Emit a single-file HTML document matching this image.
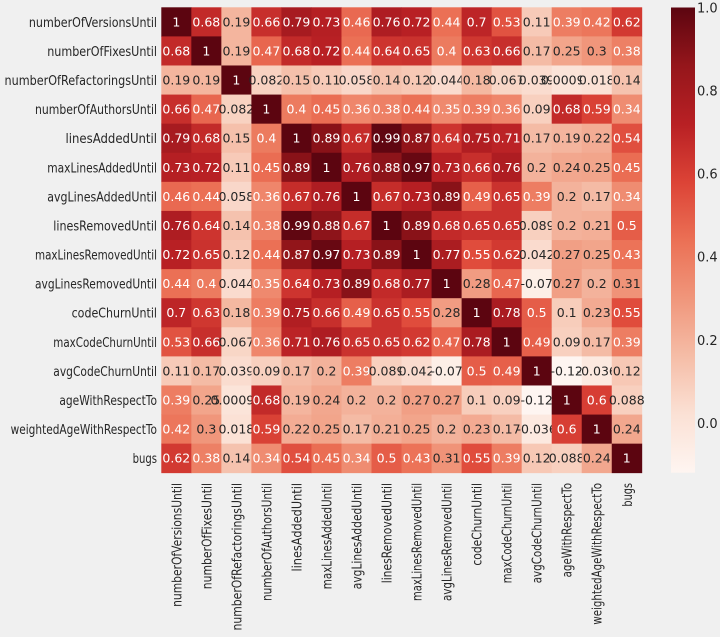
<!DOCTYPE html>
<html><head><meta charset="utf-8"><style>
html,body{margin:0;padding:0;background:#f0f0f0;}
svg{display:block;font-family:"DejaVu Sans","Liberation Sans",sans-serif;}
</style></head><body>
<svg id="s" width="720" height="637" xmlns="http://www.w3.org/2000/svg">
<rect width="720" height="637" fill="#f0f0f0"/>
<defs><linearGradient id="cb" x1="0" y1="1" x2="0" y2="0"></linearGradient></defs>
</svg>
<script>
const names=["numberOfVersionsUntil","numberOfFixesUntil","numberOfRefactoringsUntil","numberOfAuthorsUntil","linesAddedUntil","maxLinesAddedUntil","avgLinesAddedUntil","linesRemovedUntil","maxLinesRemovedUntil","avgLinesRemovedUntil","codeChurnUntil","maxCodeChurnUntil","avgCodeChurnUntil","ageWithRespectTo","weightedAgeWithRespectTo","bugs"];
const M=[
[1,0.68,0.19,0.66,0.79,0.73,0.46,0.76,0.72,0.44,0.7,0.53,0.11,0.39,0.42,0.62],
[0.68,1,0.19,0.47,0.68,0.72,0.44,0.64,0.65,0.4,0.63,0.66,0.17,0.25,0.3,0.38],
[0.19,0.19,1,0.082,0.15,0.11,0.058,0.14,0.12,0.044,0.18,0.067,0.039,0.00097,0.018,0.14],
[0.66,0.47,0.082,1,0.4,0.45,0.36,0.38,0.44,0.35,0.39,0.36,0.09,0.68,0.59,0.34],
[0.79,0.68,0.15,0.4,1,0.89,0.67,0.99,0.87,0.64,0.75,0.71,0.17,0.19,0.22,0.54],
[0.73,0.72,0.11,0.45,0.89,1,0.76,0.88,0.97,0.73,0.66,0.76,0.2,0.24,0.25,0.45],
[0.46,0.44,0.058,0.36,0.67,0.76,1,0.67,0.73,0.89,0.49,0.65,0.39,0.2,0.17,0.34],
[0.76,0.64,0.14,0.38,0.99,0.88,0.67,1,0.89,0.68,0.65,0.65,0.089,0.2,0.21,0.5],
[0.72,0.65,0.12,0.44,0.87,0.97,0.73,0.89,1,0.77,0.55,0.62,0.042,0.27,0.25,0.43],
[0.44,0.4,0.044,0.35,0.64,0.73,0.89,0.68,0.77,1,0.28,0.47,-0.07,0.27,0.2,0.31],
[0.7,0.63,0.18,0.39,0.75,0.66,0.49,0.65,0.55,0.28,1,0.78,0.5,0.1,0.23,0.55],
[0.53,0.66,0.067,0.36,0.71,0.76,0.65,0.65,0.62,0.47,0.78,1,0.49,0.09,0.17,0.39],
[0.11,0.17,0.039,0.09,0.17,0.2,0.39,0.089,0.042,-0.07,0.5,0.49,1,-0.12,-0.036,0.12],
[0.39,0.25,0.00097,0.68,0.19,0.24,0.2,0.2,0.27,0.27,0.1,0.09,-0.12,1,0.6,0.088],
[0.42,0.3,0.018,0.59,0.22,0.25,0.17,0.21,0.25,0.2,0.23,0.17,-0.036,0.6,1,0.24],
[0.62,0.38,0.14,0.34,0.54,0.45,0.34,0.5,0.43,0.31,0.55,0.39,0.12,0.088,0.24,1]];
const R=["#fff5f0","#fee0d2","#fcbba1","#fc9272","#fb6a4a","#ef3b2c","#cb181d","#a50f15","#67000d"].map(h=>[1,3,5].map(i=>parseInt(h.substr(i,2),16)));
const vmin=-0.12,vmax=1;
function col(v){let t=(v-vmin)/(vmax-vmin);t=Math.max(0,Math.min(1,t));let p=t*8,i=Math.min(7,Math.floor(p)),f=p-i;return R[i].map((c,k)=>Math.round(c+(R[i+1][k]-c)*f));}
function desat(c){const g=.3*c[0]+.59*c[1]+.11*c[2];return c.map(x=>Math.round(x*0.85+g*0.15));}
function lum(c){const l=c.map(x=>{x/=255;return x<=0.03928?x/12.92:Math.pow((x+0.055)/1.055,2.4)});return .2126*l[0]+.7152*l[1]+.0722*l[2];}
const s=document.getElementById('s');const NS="http://www.w3.org/2000/svg";
function el(t,a,txt){const e=document.createElementNS(NS,t);for(const k in a)e.setAttribute(k,a[k]);if(txt!==undefined)e.textContent=txt;s.appendChild(e);return e;}
const L=161.3,T=7.3,W=30.03,H=29.09;
for(let r=0;r<16;r++)for(let c=0;c<16;c++){const v=M[r][c],c0=col(v),cc=desat(c0);
el('rect',{x:L+c*W,y:T+r*H,width:W+0.4,height:H+0.4,fill:`rgb(${cc})`});
el('text',{x:L+c*W+W/2,y:T+r*H+H/2+4.5,'text-anchor':'middle','font-size':12.5,fill:lum(c0)<0.408?'#ffffff':'#262626'},String(v));}
names.forEach((n,i)=>{
el('text',{x:157,y:T+i*H+H/2+5,'text-anchor':'end','font-size':13,textLength:n.length*6.1,lengthAdjust:'spacingAndGlyphs',fill:'#262626'},n);
const x=L+i*W+W/2+5;
el('text',{x:0,y:0,transform:`translate(${x},483) rotate(-90)`,'text-anchor':'end','font-size':13,textLength:n.length*5.9,lengthAdjust:'spacingAndGlyphs',fill:'#262626'},n);});
const g=document.getElementById('cb');
for(let i=0;i<=8;i++){const st=document.createElementNS(NS,'stop');st.setAttribute('offset',i/8);st.setAttribute('stop-color',`rgb(${desat(R[i])})`);g.appendChild(st);}
el('rect',{x:671,y:7.5,width:24,height:465.2,fill:'url(#cb)'});
[[1.0,'1.0'],[0.8,'0.8'],[0.6,'0.6'],[0.4,'0.4'],[0.2,'0.2'],[0.0,'0.0']].forEach(([v,t])=>{
const y=472.7-(v-vmin)/(vmax-vmin)*465.2;
el('text',{x:697,y:y+5,'font-size':13,fill:'#262626'},t);});
</script>
</body></html>
